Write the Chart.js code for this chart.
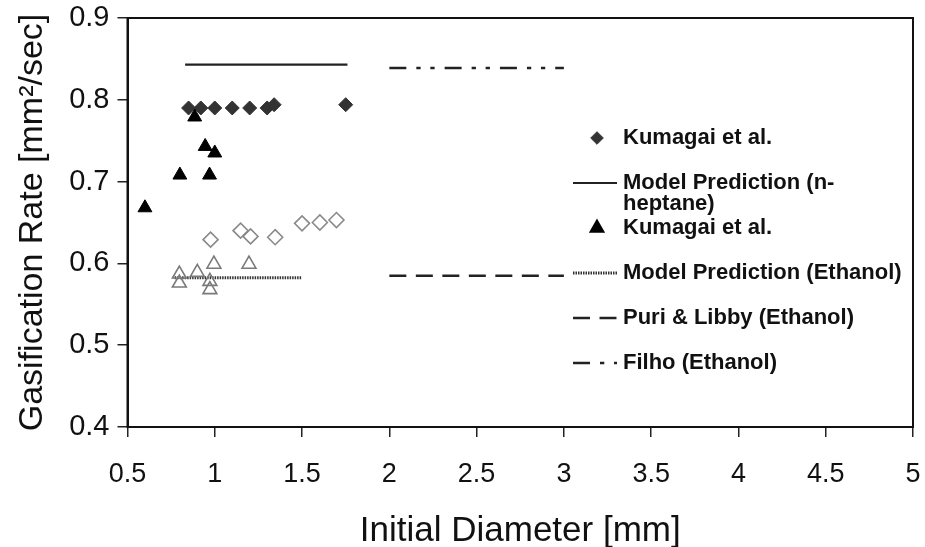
<!DOCTYPE html>
<html>
<head>
<meta charset="utf-8">
<script src="https://cdn.jsdelivr.net/npm/chart.js@4.4.1/dist/chart.umd.min.js"></script>
<style>
  html, body { margin: 0; padding: 0; background: #fff; }
  #wrap { width: 925px; height: 547px; }
</style>
</head>
<body>
<div id="wrap"><canvas id="rateChart" width="925" height="547"></canvas></div>
<script>
// Kumagai et al. (n-heptane) - filled diamonds
const heptaneDiam = [0.85, 0.92, 1.0, 1.1, 1.2, 1.3, 1.34, 1.75];
const heptaneRate = [0.79, 0.79, 0.79, 0.79, 0.79, 0.79, 0.794, 0.794];
// Model Prediction (n-heptane)
const heptaneModelDiam = [0.83, 1.76];
const heptaneModelRate = [0.843, 0.843];
// Kumagai et al. (ethanol) - filled triangles
const ethanolDiam = [0.6, 0.8, 0.885, 0.945, 0.97, 1.0];
const ethanolRate = [0.668, 0.708, 0.779, 0.743, 0.708, 0.735];
// Model Prediction (Ethanol)
const ethanolModelDiam = [0.77, 1.5];
const ethanolModelRate = [0.5825, 0.5825];
// Puri & Libby (Ethanol)
const puriDiam = [2.0, 3.0];
const puriRate = [0.585, 0.585];
// Filho (Ethanol)
const filhoDiam = [2.0, 3.0];
const filhoRate = [0.839, 0.839];
// open diamonds (not in legend)
const openDiamDiam = [0.976, 1.148, 1.205, 1.346, 1.5, 1.602, 1.697];
const openDiamRate = [0.629, 0.64, 0.633, 0.632, 0.649, 0.65, 0.653];
// open triangles (not in legend)
const openTriDiam = [0.797, 0.797, 0.9, 0.972, 0.972, 0.995, 1.196];
const openTriRate = [0.587, 0.576, 0.589, 0.578, 0.568, 0.599, 0.599];

const xTicks = [0.5, 1, 1.5, 2, 2.5, 3, 3.5, 4, 4.5, 5];
const yTicks = [0.4, 0.5, 0.6, 0.7, 0.8, 0.9];

const legendText = [
    ["Kumagai et al."],
    ["Model Prediction (n-", "heptane)"],
    ["Kumagai et al."],
    ["Model Prediction (Ethanol)"],
    ["Puri & Libby (Ethanol)"],
    ["Filho (Ethanol)"]
];

const FONT = "'Liberation Sans', Arial, sans-serif";

function pts(xs, ys) {
    return xs.map((x, i) => ({ x: x, y: ys[i] }));
}

// box round the plot area
const frame = {
    id: 'frame',
    beforeDatasetsDraw(chart) {
        const a = chart.chartArea, ctx = chart.ctx;
        ctx.save();
        ctx.strokeStyle = '#111';
        ctx.lineWidth = 2;
        ctx.strokeRect(a.left, a.top, a.right - a.left, a.bottom - a.top);
        ctx.restore();
    }
};

// legend drawn inside the plot, right side
const innerLegend = {
    id: 'innerLegend',
    afterDraw(chart) {
        const ctx = chart.ctx;
        const symX = 597, lineX0 = 573, lineX1 = 617, textX = 623;
        let y = 138;
        ctx.save();
        for (let i = 0; i < legendText.length; i++) {
            const ds = chart.data.datasets[i];
            if (ds.showLine) {
                ctx.strokeStyle = ds.borderColor;
                ctx.lineWidth = ds.borderWidth;
                ctx.setLineDash(ds.borderDash || []);
                ctx.beginPath();
                ctx.moveTo(lineX0, y);
                ctx.lineTo(lineX1, y);
                ctx.stroke();
                ctx.setLineDash([]);
            } else {
                ctx.fillStyle = ds.backgroundColor;
                ctx.strokeStyle = ds.borderColor;
                Chart.helpers.drawPoint(ctx, {
                    pointStyle: ds.pointStyle,
                    radius: ds.pointRadius * 0.9,
                    borderWidth: ds.borderWidth,
                    rotation: 0
                }, symX, y);
            }
            ctx.fillStyle = '#111';
            ctx.font = 'bold 22px ' + FONT;
            ctx.textBaseline = 'middle';
            ctx.textAlign = 'left';
            legendText[i].forEach((t, k) => ctx.fillText(t, textX, y + k * 21));
            y += 45;
        }
        ctx.restore();
    }
};

new Chart(document.getElementById('rateChart'), {
    type: 'scatter',
    data: {
        datasets: [
            { label: 'Kumagai et al.', data: pts(heptaneDiam, heptaneRate), pointStyle: 'rectRot', pointRadius: 7,
              backgroundColor: '#333', borderColor: '#333', borderWidth: 1, order: 2 },
            { label: 'Model Prediction (n-heptane)', data: pts(heptaneModelDiam, heptaneModelRate), showLine: true,
              pointRadius: 0, borderColor: '#222', borderWidth: 2.2, order: 3 },
            { label: 'Kumagai et al.', data: pts(ethanolDiam, ethanolRate), pointStyle: 'triangle', pointRadius: 8,
              backgroundColor: '#000', borderColor: '#000', borderWidth: 1, order: 1 },
            { label: 'Model Prediction (Ethanol)', data: pts(ethanolModelDiam, ethanolModelRate), showLine: true,
              pointRadius: 0, borderColor: '#333', borderWidth: 3, borderDash: [1.5, 1], order: 5 },
            { label: 'Puri & Libby (Ethanol)', data: pts(puriDiam, puriRate), showLine: true,
              pointRadius: 0, borderColor: '#222', borderWidth: 2.5, borderDash: [17, 9.5], order: 3 },
            { label: 'Filho (Ethanol)', data: pts(filhoDiam, filhoRate), showLine: true,
              pointRadius: 0, borderColor: '#222', borderWidth: 2.5, borderDash: [17, 10, 4.3, 9.7, 4.3, 10], order: 3 },
            { label: 'open diamonds', data: pts(openDiamDiam, openDiamRate), pointStyle: 'rectRot', pointRadius: 7.5,
              backgroundColor: 'rgba(0,0,0,0)', borderColor: '#8a8a8a', borderWidth: 1.6, order: 4 },
            { label: 'open triangles', data: pts(openTriDiam, openTriRate), pointStyle: 'triangle', pointRadius: 8,
              backgroundColor: 'rgba(0,0,0,0)', borderColor: '#7a7a7a', borderWidth: 1.6, order: 4 }
        ]
    },
    options: {
        responsive: false,
        animation: false,
        events: [],
        layout: { padding: { top: 18, right: 12, left: 0, bottom: 0 } },
        plugins: { legend: { display: false }, tooltip: { enabled: false } },
        scales: {
            x: {
                type: 'linear', min: 0.5, max: 5,
                afterBuildTicks: s => { s.ticks = xTicks.map(v => ({ value: v })); },
                afterFit: s => { s.height = 120; s.paddingLeft = 0; s.paddingRight = 0; },
                ticks: { font: { size: 27, family: FONT }, color: '#111', padding: 21, maxRotation: 0,
                         callback: v => String(v) },
                grid: { drawOnChartArea: false, tickLength: 10, color: '#222', lineWidth: 1.5 },
                border: { color: '#111', width: 2 },
                title: { display: true, text: 'Initial Diameter [mm]', color: '#111',
                         font: { size: 35, family: FONT, lineHeight: 1 }, padding: { top: 0, bottom: -2 } }
            },
            y: {
                type: 'linear', min: 0.4, max: 0.9,
                afterBuildTicks: s => { s.ticks = yTicks.map(v => ({ value: v })); },
                afterFit: s => { s.width = 127.5; s.paddingTop = 0; s.paddingBottom = 0; },
                ticks: { font: { size: 29, family: FONT }, color: '#111', padding: 8,
                         callback: v => v.toFixed(1) },
                grid: { drawOnChartArea: false, tickLength: 10, color: '#222', lineWidth: 1.5 },
                border: { color: '#111', width: 2 },
                title: { display: true, text: 'Gasification Rate [mm²/sec]', color: '#111',
                         font: { size: 34, family: FONT, lineHeight: 1 }, padding: { top: 16, bottom: 0 } }
            }
        }
    },
    plugins: [frame, innerLegend]
});
</script>
</body>
</html>
